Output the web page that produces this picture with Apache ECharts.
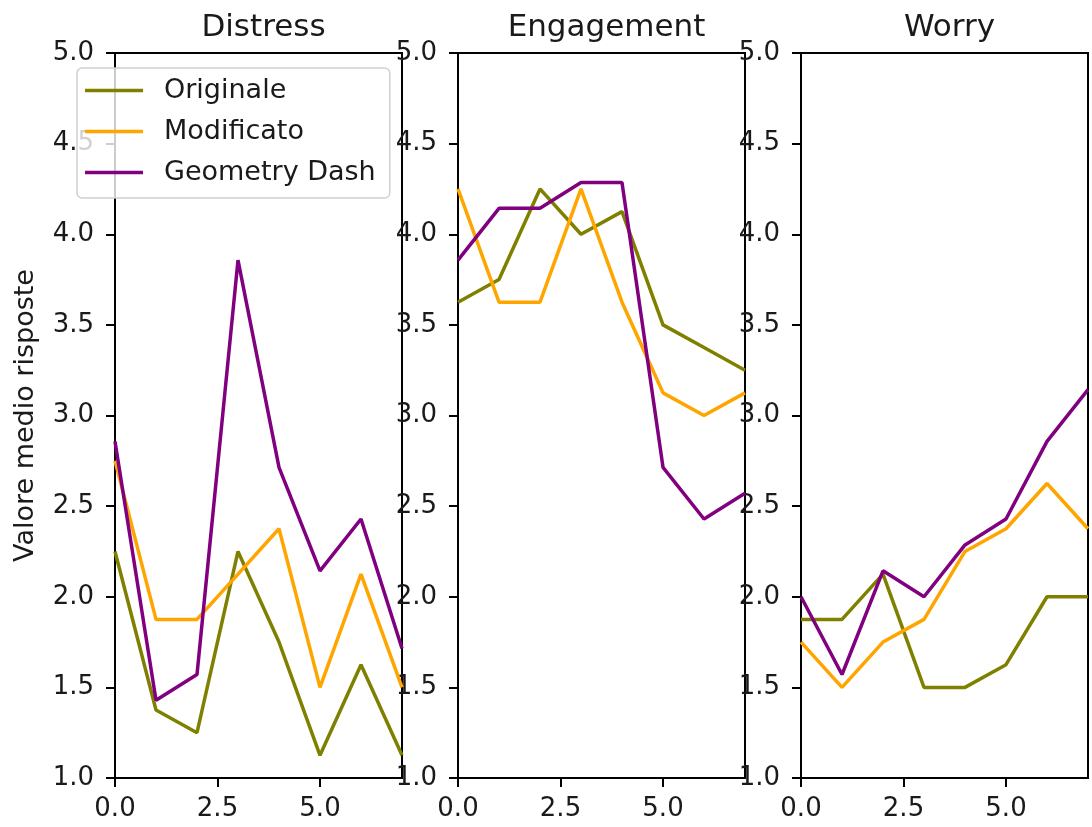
<!DOCTYPE html>
<html>
<head>
<meta charset="utf-8">
<script src="https://cdn.jsdelivr.net/npm/echarts@6/dist/echarts.min.js"></script>
<style>html,body{margin:0;padding:0;background:#fff;}#c{width:1092px;height:827px;}</style>
</head>
<body>
<div id="c"></div>
<script>
const panels = ['Distress', 'Engagement', 'Worry'];
const xValues = [0, 1, 2, 3, 4, 5, 6, 7];
const seriesNames = ['Originale', 'Modificato', 'Geometry Dash'];
const colors = ['#808000', '#FFA500', '#800080'];
const xTickLabels = [0, 2.5, 5.0];

const distressOriginale = [2.25, 1.375, 1.25, 2.25, 1.75, 1.125, 1.625, 1.125];
const distressModificato = [2.75, 1.875, 1.875, 2.125, 2.375, 1.5, 2.125, 1.5];
const distressGD = [2.857, 1.429, 1.571, 3.857, 2.714, 2.143, 2.429, 1.714];

const engagementOriginale = [3.625, 3.75, 4.25, 4.0, 4.125, 3.5, 3.375, 3.25];
const engagementModificato = [4.25, 3.625, 3.625, 4.25, 3.625, 3.125, 3.0, 3.125];
const engagementGD = [3.857, 4.143, 4.143, 4.286, 4.286, 2.714, 2.429, 2.571];

const worryOriginale = [1.875, 1.875, 2.125, 1.5, 1.5, 1.625, 2.0, 2.0];
const worryModificato = [1.75, 1.5, 1.75, 1.875, 2.25, 2.375, 2.625, 2.375];
const worryGD = [2.0, 1.571, 2.143, 2.0, 2.286, 2.429, 2.857, 3.143];

const panelData = [
  [distressOriginale, distressModificato, distressGD],
  [engagementOriginale, engagementModificato, engagementGD],
  [worryOriginale, worryModificato, worryGD]
];

const FONT = 'DejaVu Sans';
const TXT = '#1a1a1a';
const lefts = [115, 458, 801];
const W = 287, TOP = 53, H = 725;

const grids = [], xAxes = [], yAxes = [], titles = [], series = [];
panels.forEach((p, i) => {
  grids.push({left: lefts[i], top: TOP, width: W, height: H, show: true, borderColor: '#000', borderWidth: 2, containLabel: false});
  xAxes.push({
    type: 'value', gridIndex: i, min: 0, max: 7,
    axisLine: {show: true, onZero: false, lineStyle: {color: '#000', width: 2}},
    axisTick: {show: true, inside: false, length: 9, customValues: xTickLabels, lineStyle: {color: '#000', width: 2}},
    axisLabel: {show: true, customValues: xTickLabels, color: TXT, fontFamily: FONT, fontSize: 26, margin: 18,
      formatter: v => v.toFixed(1)},
    splitLine: {show: false}
  });
  yAxes.push({
    type: 'value', gridIndex: i, min: 1, max: 5, interval: 0.5,
    name: i === 0 ? 'Valore medio risposte' : '',
    nameLocation: 'middle', nameGap: 76, nameRotate: 90,
    nameTextStyle: {color: TXT, fontFamily: FONT, fontSize: 27},
    axisLine: {show: true, lineStyle: {color: '#000', width: 2}},
    axisTick: {show: true, inside: false, length: 9, lineStyle: {color: '#000', width: 2}},
    axisLabel: {show: true, color: TXT, fontFamily: FONT, fontSize: 26, margin: 21, formatter: v => v.toFixed(1)},
    splitLine: {show: false}
  });
  titles.push({text: p, left: lefts[i] + W / 2, top: 7, textAlign: 'center',
    textStyle: {color: TXT, fontFamily: FONT, fontSize: 31, fontWeight: 'normal'}});
  seriesNames.forEach((n, k) => {
    series.push({
      name: n, type: 'line', xAxisIndex: i, yAxisIndex: i,
      data: xValues.map((x, j) => [x, panelData[i][k][j]]),
      symbol: 'none', lineStyle: {color: colors[k], width: 3.5}, itemStyle: {color: colors[k]},
      animation: false, clip: true, z: 3
    });
  });
});

const chart = echarts.init(document.getElementById('c'), null, {renderer: 'canvas'});
chart.setOption({
  backgroundColor: '#fff',
  animation: false,
  title: titles,
  grid: grids,
  xAxis: xAxes,
  yAxis: yAxes,
  legend: {
    data: seriesNames, orient: 'vertical', left: 77, top: 68,
    icon: 'path://M0,0 L58,0 L58,3.5 L0,3.5 Z',
    itemWidth: 58, itemHeight: 14, itemGap: 14,
    padding: [9, 14, 12, 8],
    backgroundColor: 'rgba(255,255,255,0.8)', borderColor: '#d0d0d0', borderWidth: 1.5, borderRadius: 5,
    textStyle: {color: TXT, fontFamily: FONT, fontSize: 27, lineHeight: 27, padding: [0, 0, 0, 16]},
    z: 10
  },
  series: series
});
</script>
</body>
</html>
